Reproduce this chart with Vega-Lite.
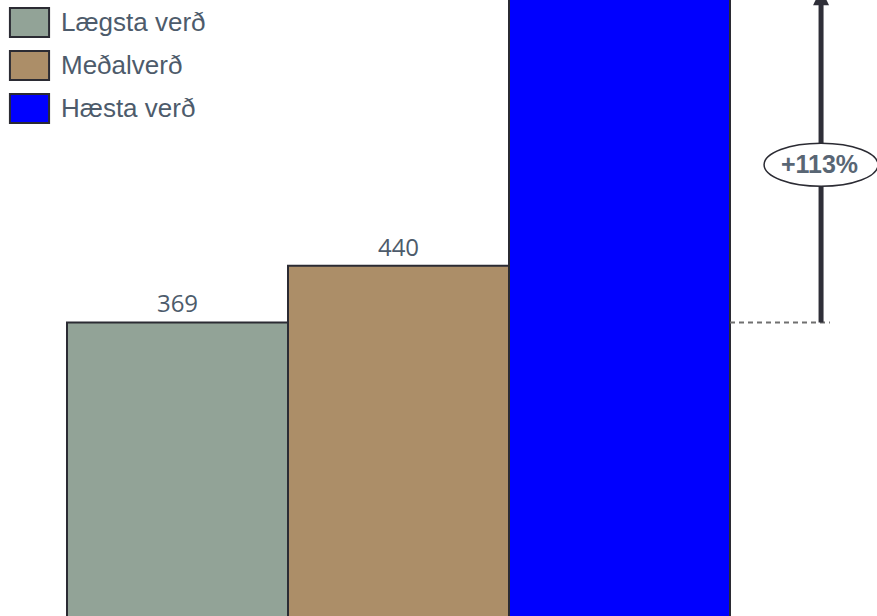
{
  "$schema": "https://vega.github.io/schema/vega-lite/v6.json",
  "width": 877,
  "height": 618,
  "autosize": {"type": "none"},
  "padding": 0,
  "background": "white",
  "config": {"view": {"stroke": null}},
  "datasets": {
    "bars": [
      {"kind": "Lægsta verð", "value": 369},
      {"kind": "Meðalverð", "value": 440},
      {"kind": "Hæsta verð", "value": 786}
    ],
    "note": [
      {"base": 369, "top": 786, "label": "+113%"}
    ]
  },
  "layer": [
    {
      "data": {"name": "bars"},
      "mark": {"type": "bar", "stroke": "#2b2b33", "strokeWidth": 2, "clip": true},
      "encoding": {
        "x": {"field": "kind", "type": "nominal",
              "scale": {"domain": ["Lægsta verð", "Meðalverð", "Hæsta verð", "arrow"], "range": [67, 951], "paddingInner": 0, "paddingOuter": 0},
              "axis": null},
        "y": {"field": "value", "type": "quantitative",
              "scale": {"domain": [0, 771.7], "nice": false, "zero": true},
              "axis": null},
        "color": {"field": "kind", "type": "nominal",
                  "scale": {"domain": ["Lægsta verð", "Meðalverð", "Hæsta verð"], "range": ["#92a397", "#ac8e68", "#0000ff"]},
                  "legend": {"title": null, "orient": "none", "legendX": 14, "legendY": 7, "padding": 0,
                             "symbolType": "M-1.35,-1L1.35,-1L1.35,1L-1.35,1Z", "symbolSize": 841,
                             "symbolStrokeColor": "#2b2b33", "symbolStrokeWidth": 2, "symbolOpacity": 1,
                             "labelFont": "Liberation Sans", "labelFontSize": 26, "labelColor": "#4d5b6b",
                             "labelOffset": 16, "rowPadding": 6}}
      }
    },
    {
      "data": {"name": "bars"},
      "transform": [{"filter": "datum.value < 700"}],
      "mark": {"type": "text", "font": "Open Sans", "fontSize": 24, "color": "#4d5b6b", "baseline": "alphabetic", "dy": -10},
      "encoding": {
        "x": {"field": "kind", "type": "nominal"},
        "y": {"field": "value", "type": "quantitative"},
        "text": {"field": "value", "type": "quantitative"}
      }
    },
    {
      "data": {"name": "note"},
      "mark": {"type": "rule", "color": "#707070", "strokeWidth": 2, "strokeDash": [5, 4]},
      "encoding": {
        "x": {"datum": "arrow", "type": "nominal", "bandPosition": 0},
        "x2": {"datum": "arrow", "bandPosition": 0.452},
        "y": {"field": "base", "type": "quantitative"}
      }
    },
    {
      "data": {"name": "note"},
      "mark": {"type": "rule", "color": "#2f2f38", "strokeWidth": 5},
      "encoding": {
        "x": {"datum": "arrow", "type": "nominal", "bandPosition": 0.412},
        "y": {"field": "base", "type": "quantitative"},
        "y2": {"field": "top"}
      }
    },
    {
      "data": {"name": "note"},
      "mark": {"type": "point", "shape": "M0,0L-1,2.1L1,2.1Z", "size": 256, "filled": true, "fill": "#2f2f38", "opacity": 1, "strokeWidth": 0},
      "encoding": {
        "x": {"datum": "arrow", "type": "nominal", "bandPosition": 0.412},
        "y": {"field": "top", "type": "quantitative"}
      }
    },
    {
      "data": {"name": "note"},
      "mark": {"type": "point", "shape": "M-2.65,0A2.65,1 0 1,1 2.65,0A2.65,1 0 1,1 -2.65,0Z", "size": 1849, "filled": true, "fill": "white", "stroke": "#2b2b33", "strokeWidth": 1.5, "opacity": 1},
      "encoding": {
        "x": {"datum": "arrow", "type": "nominal", "bandPosition": 0.412},
        "y": {"datum": 566, "type": "quantitative"}
      }
    },
    {
      "data": {"name": "note"},
      "mark": {"type": "text", "font": "Liberation Sans", "fontWeight": "bold", "fontSize": 25, "color": "#596674", "align": "center", "baseline": "middle"},
      "encoding": {
        "x": {"datum": "arrow", "type": "nominal", "bandPosition": 0.405},
        "y": {"datum": 566, "type": "quantitative"},
        "text": {"field": "label"}
      }
    }
  ]
}
